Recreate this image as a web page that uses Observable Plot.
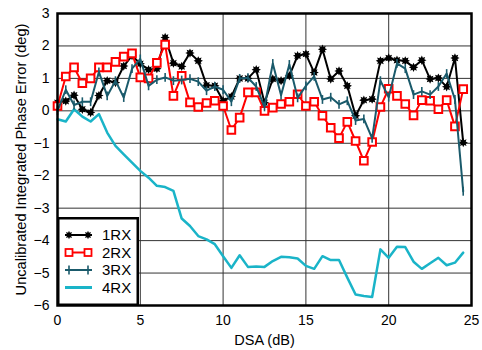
<!DOCTYPE html>
<html>
<head>
<meta charset="utf-8">
<script src="https://cdn.jsdelivr.net/npm/d3@7"></script>
<script src="https://cdn.jsdelivr.net/npm/@observablehq/plot@0.6"></script>
<style>
  html, body { margin: 0; padding: 0; background: #fff; }
  #wrap { position: relative; width: 482px; height: 350px; font-family: "Liberation Sans", Arial, sans-serif; }
  #legend { position: absolute; left: 57px; top: 217px; }
</style>
</head>
<body>
<div id="wrap"><div id="chart"></div><svg id="legend" width="82" height="89"></svg></div>
<script>
const dsa = d3.range(0, 25, 0.5); // 0 .. 24.5 step 0.5 (x values)
const rx1 = [0.25,0.3,0.48,0.05,-0.05,0.47,0.93,0.87,1.38,1.7,1.45,1.27,1.3,2.26,1.47,1.37,1.78,1.54,0.79,0.77,0.31,0.44,1.0,1.0,1.27,0.25,0.98,0.93,1.08,1.7,1.75,1.18,1.9,0.98,1.23,0.77,-0.15,0.33,0.36,1.54,1.63,1.56,1.54,1.34,1.56,0.98,1.01,0.74,1.63,-0.98];
const rx2 = [0.15,1.06,1.34,0.85,1.0,1.34,1.34,1.51,1.67,1.77,1.03,1.0,1.48,2.04,0.46,1.08,0.26,0.12,0.24,0.31,0.15,-0.59,-0.21,0.57,0.57,0.0,0.1,0.21,0.28,0.51,0.15,0.28,-0.15,-0.52,-0.84,-0.34,-0.93,-1.54,-0.96,0.12,0.68,0.46,0.21,-0.14,0.33,0.31,0.05,0.33,-0.48,0.67];
const rx3 = [0.0,0.65,0.18,0.28,0.28,1.2,0.46,0.93,0.41,1.3,1.6,0.77,0.96,1.03,0.93,0.95,0.99,0.9,0.62,0.75,0.65,0.28,1.0,1.02,0.75,0.12,1.46,0.48,1.43,0.4,0.77,1.06,0.35,0.42,0.2,0.31,-0.3,-0.25,-0.85,0.93,0.42,1.46,1.3,0.5,0.6,0.5,0.75,1.15,0.35,-2.48];
const rx4 = [-0.26,-0.33,0.05,-0.18,-0.33,-0.1,-0.67,-1.08,-1.34,-1.6,-1.85,-2.06,-2.31,-2.35,-2.47,-3.32,-3.55,-3.86,-3.96,-4.11,-4.48,-4.84,-4.45,-4.81,-4.8,-4.81,-4.63,-4.5,-4.51,-4.55,-4.78,-4.87,-4.48,-4.6,-4.6,-5.14,-5.66,-5.71,-5.74,-4.27,-4.53,-4.19,-4.2,-4.65,-4.87,-4.7,-4.53,-4.76,-4.68,-4.37];
const seriesNames = ["1RX","2RX","3RX","4RX"];
const xTicks = [0,5,10,15,20,25];
const yTicks = [-6,-5,-4,-3,-2,-1,0,1,2,3];

const colors = {"1RX":"#000000","2RX":"#ff0000","3RX":"#1a5a6b","4RX":"#1ab4c8"};

const star8 = {
  draw(ctx, size) {
    const R = Math.sqrt(size / Math.PI);
    const ro = R * 1.3, ri = R * 0.75;
    for (let i = 0; i < 16; i++) {
      const a = i * Math.PI / 8 - Math.PI / 2;
      const r = i % 2 === 0 ? ro : ri;
      const px = r * Math.cos(a), py = r * Math.sin(a);
      if (i === 0) ctx.moveTo(px, py); else ctx.lineTo(px, py);
    }
    ctx.closePath();
  }
};
const plusV = {
  draw(ctx, size) {
    const R = Math.sqrt(size / Math.PI);
    const h = R * 1.1, w = 0.8;
    ctx.moveTo(-w, -h); ctx.lineTo(w, -h); ctx.lineTo(w, h); ctx.lineTo(-w, h); ctx.closePath();
  }
};

const mk = (arr) => dsa.map((x, i) => ({x, y: arr[i]}));
const d1 = mk(rx1), d2 = mk(rx2), d3s = mk(rx3), d4 = mk(rx4);

const chart = Plot.plot({
  width: 482,
  height: 350,
  marginLeft: 57,
  marginRight: 11,
  marginTop: 13,
  marginBottom: 45,
  style: {fontFamily: "'Liberation Sans', Arial, sans-serif", fontSize: "14px", color: "#000", background: "#fff"},
  x: {domain: [0, 25]},
  y: {domain: [-6, 3]},
  marks: [
    Plot.gridX(xTicks, {stroke: "#333", strokeOpacity: 1, strokeWidth: 1}),
    Plot.gridY(yTicks, {stroke: "#333", strokeOpacity: 1, strokeWidth: 1}),
    Plot.axisX(xTicks, {tickSize: 0, tickPadding: 10, fontSize: 14, label: null}),
    Plot.axisX({tickSize: 0, ticks: [], label: "DSA (dB)", labelAnchor: "center", labelArrow: "none", labelOffset: 39, fontSize: 14.5}),
    Plot.axisY(yTicks, {tickSize: 0, tickPadding: 8, fontSize: 14, label: null}),
    Plot.axisY({tickSize: 0, ticks: [], label: "Uncalibrated Integrated Phase Error (deg)", labelAnchor: "center", labelArrow: "none", labelOffset: 42, fontSize: 14.6}),
    Plot.line(d4, {x: "x", y: "y", stroke: colors["4RX"], strokeWidth: 2.5}),
    Plot.line(d1, {x: "x", y: "y", stroke: colors["1RX"], strokeWidth: 2}),
    Plot.dot(d1, {x: "x", y: "y", symbol: star8, r: 3.6, fill: colors["1RX"], stroke: "none"}),
    Plot.line(d2, {x: "x", y: "y", stroke: colors["2RX"], strokeWidth: 2}),
    Plot.dot(d2, {x: "x", y: "y", symbol: "square", r: 4.3, fill: "#fff", stroke: colors["2RX"], strokeWidth: 2}),
    Plot.line(d3s, {x: "x", y: "y", stroke: colors["3RX"], strokeWidth: 2}),
    Plot.dot(d3s, {x: "x", y: "y", symbol: plusV, r: 4, fill: colors["3RX"], stroke: "none"}),
    Plot.frame({stroke: "#000", strokeWidth: 2.5})
  ]
});
document.getElementById("chart").appendChild(chart);

// legend overlay
const lg = d3.select("#legend");
lg.append("rect").attr("x", 1.25).attr("y", 1.25).attr("width", 79.5).attr("height", 86.5)
  .attr("fill", "#fff").attr("stroke", "#000").attr("stroke-width", 2.5);
const rowY = [18, 35.5, 53, 70.5];
seriesNames.forEach((name, i) => {
  const g = lg.append("g").attr("transform", `translate(0,${rowY[i]})`);
  const c = colors[name];
  g.append("line").attr("x1", 8).attr("x2", 35).attr("y1", 0).attr("y2", 0)
    .attr("stroke", c).attr("stroke-width", i === 3 ? 3 : 2);
  [12, 31].forEach(mx => {
    if (i === 0) g.append("path").attr("d", d3.symbol(star8, Math.PI * 3.2 * 3.2)()).attr("transform", `translate(${mx},0)`).attr("fill", c);
    if (i === 1) g.append("rect").attr("x", mx - 3.5).attr("y", -3.5).attr("width", 7).attr("height", 7).attr("fill", "#fff").attr("stroke", c).attr("stroke-width", 1.8);
    if (i === 2) g.append("path").attr("d", d3.symbol(plusV, Math.PI * 4 * 4)()).attr("transform", `translate(${mx},0)`).attr("fill", c);
  });
  g.append("text").attr("x", 45).attr("y", 0).attr("dy", "0.36em")
    .attr("font-size", 15).attr("fill", "#000").text(name);
});
</script>
</body>
</html>
